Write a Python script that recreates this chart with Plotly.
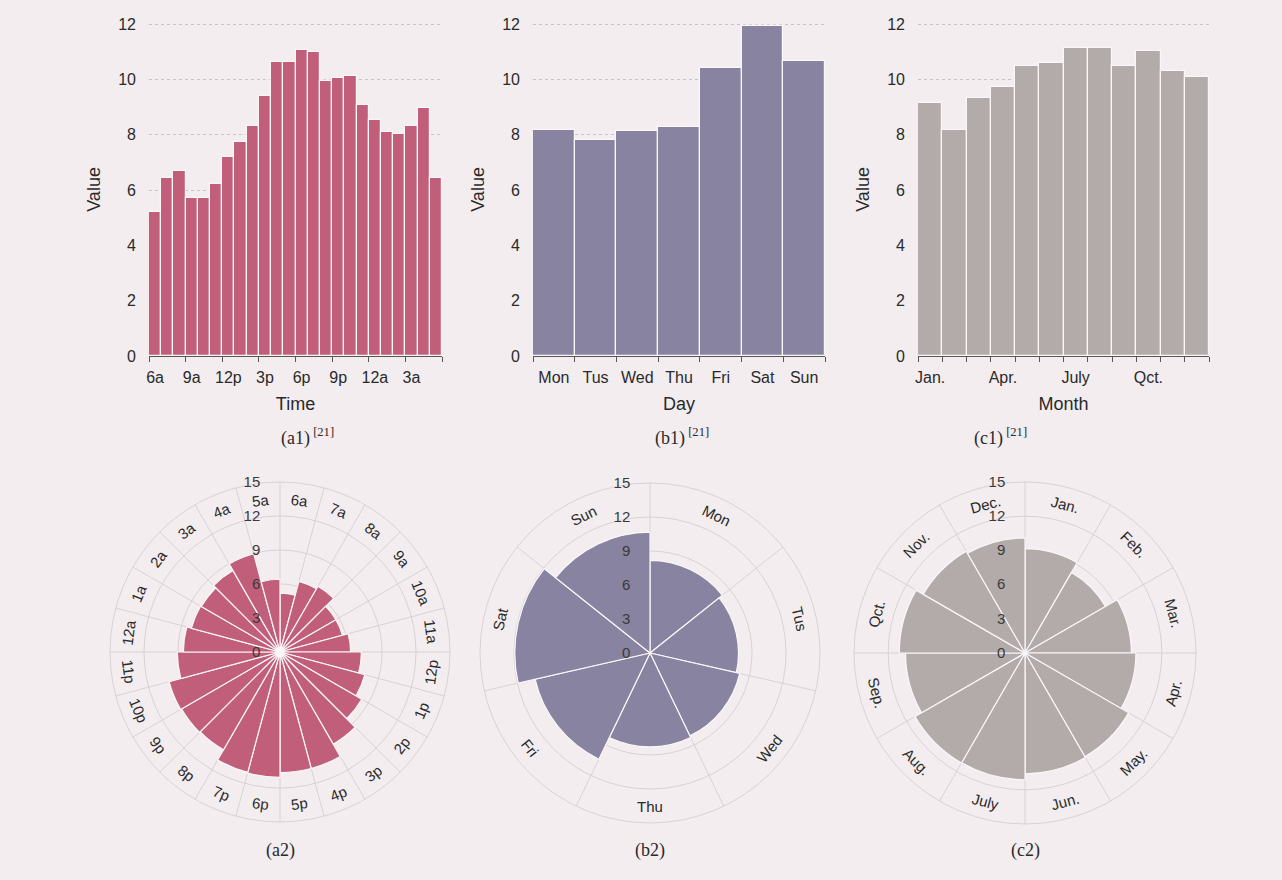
import math
import plotly.graph_objects as go

# ---------------- data ----------------
hours = ["6a", "7a", "8a", "9a", "10a", "11a", "12p", "1p", "2p", "3p", "4p", "5p",
         "6p", "7p", "8p", "9p", "10p", "11p", "12a", "1a", "2a", "3a", "4a", "5a"]
hour_values = [5.2, 6.45, 6.7, 5.7, 5.7, 6.23, 7.18, 7.75, 8.33, 9.39, 10.64, 10.64,
               11.06, 11.0, 9.96, 10.04, 10.13, 9.06, 8.52, 8.1, 8.02, 8.3, 8.98, 6.42]

days = ["Mon", "Tus", "Wed", "Thu", "Fri", "Sat", "Sun"]
day_values = [8.17, 7.81, 8.12, 8.29, 10.4, 11.93, 10.66]

months = ["Jan.", "Feb.", "Mar.", "Apr.", "May.", "Jun.", "July", "Aug.", "Sep.", "Qct.", "Nov.", "Dec."]
month_values = [9.15, 8.16, 9.33, 9.73, 10.5, 10.59, 11.12, 11.14, 10.48, 11.03, 10.3, 10.1]

bar_ticks = [0, 2, 4, 6, 8, 10, 12]
radial_ticks = [0, 3, 6, 9, 12, 15]

# ---------------- style ----------------
W, H = 1282, 880
BG = "#F3EDF0"
C_HOUR = "#C15E7A"
C_DAY = "#8783A0"
C_MONTH = "#B2ABAA"
SANS = "Liberation Sans, Arial, sans-serif"
SERIF = "Liberation Serif, Times New Roman, serif"
TXT = "#2a2a2a"
GRID = "#d8d2d5"

panels = [
    dict(cats=hours, vals=hour_values, color=C_HOUR, xt="Time", label_step=3, tick_step=3,
         x0=149, x1=442, cap="(a1)", capx=307,
         pc=(280, 652), pr=170, pcap="(a2)"),
    dict(cats=days, vals=day_values, color=C_DAY, xt="Day", label_step=1, tick_step=1,
         x0=533, x1=825, cap="(b1)", capx=682,
         pc=(650, 653), pr=170, pcap="(b2)"),
    dict(cats=months, vals=month_values, color=C_MONTH, xt="Month", label_step=3, tick_step=1,
         x0=918, x1=1209, cap="(c1)", capx=1000,
         pc=(1025, 653), pr=171, pcap="(c2)"),
]

fig = go.Figure()
annotations = []
Y0_PX, Y12_PX = 356, 24
YMAX = 12.04
Y_TOP_PX = Y0_PX - (Y0_PX - Y12_PX) * YMAX / 12.0

for k, p in enumerate(panels, start=1):
    n = len(p["cats"])
    xs = list(range(n))
    xa = "x" if k == 1 else f"x{k}"
    ya = "y" if k == 1 else f"y{k}"
    fig.add_trace(go.Bar(
        x=xs, y=p["vals"], xaxis=xa, yaxis=ya,
        marker=dict(color=p["color"], line=dict(color="#fbf7f9", width=1.2)),
        width=1.0, showlegend=False, hoverinfo="y",
    ))
    axkey = "xaxis" if k == 1 else f"xaxis{k}"
    aykey = "yaxis" if k == 1 else f"yaxis{k}"
    fig.update_layout(**{
        axkey: dict(
            domain=[p["x0"] / W, p["x1"] / W], anchor=ya,
            range=[-0.5, n - 0.5], automargin=False,
            tickmode="array",
            tickvals=xs[::p["label_step"]],
            ticktext=p["cats"][::p["label_step"]],
            ticks="", showgrid=False, zeroline=False,
            showline=True, linecolor="#555555", linewidth=1,
            ticklabelstandoff=7,
            tickfont=dict(family=SANS, size=16, color=TXT),
            minor=dict(tickmode="array",
                       tickvals=[i - 0.5 for i in range(0, n + 1, p["tick_step"])],
                       ticks="outside", ticklen=5, tickcolor="#555555", tickwidth=1,
                       showgrid=False),
            title=dict(text=p["xt"], font=dict(family=SANS, size=18, color=TXT), standoff=12),
            fixedrange=True,
        ),
        aykey: dict(
            domain=[(H - Y0_PX) / H, (H - Y_TOP_PX) / H], anchor=xa,
            range=[0, YMAX], tickmode="array", tickvals=bar_ticks, automargin=False,
            showgrid=True, gridcolor="#c9c4c7", griddash="dot", gridwidth=1,
            zeroline=False, showline=False, ticks="",
            ticklabelstandoff=12,
            tickfont=dict(family=SANS, size=16, color=TXT),
            title=dict(text="Value", font=dict(family=SANS, size=18, color=TXT), standoff=12),
            fixedrange=True,
        ),
    })
    annotations.append(dict(
        text=p["cap"] + "<sup> [21]</sup>", x=p["capx"] / W, y=(H - 437) / H,
        xref="paper", yref="paper", showarrow=False, xanchor="center", yanchor="middle",
        font=dict(family=SERIF, size=18, color=TXT),
    ))

    # ---------- polar version ----------
    cx, cy = p["pc"]
    R = p["pr"]
    step = 360.0 / n
    thetas = [(i + 0.5) * step for i in range(n)]
    pkey = "polar" if k == 1 else f"polar{k}"
    fig.add_trace(go.Barpolar(
        r=p["vals"], theta=thetas, width=[step] * n, subplot=pkey,
        marker=dict(color=p["color"], line=dict(color="#fbf7f9", width=1.2)),
        showlegend=False, hoverinfo="r",
    ))
    fig.update_layout(**{
        pkey: dict(
            domain=dict(x=[(cx - R) / W, (cx + R) / W], y=[(H - cy - R) / H, (H - cy + R) / H]),
            bgcolor="rgba(0,0,0,0)",
            angularaxis=dict(
                rotation=90, direction="clockwise",
                tickmode="array", tickvals=[i * step for i in range(n)],
                showticklabels=False, ticks="",
                showgrid=True, gridcolor=GRID, gridwidth=1,
                showline=True, linecolor=GRID, linewidth=1,
            ),
            radialaxis=dict(
                range=[0, 15], tickmode="array", tickvals=radial_ticks,
                angle=90, side="counterclockwise", tickangle=90,
                showline=False, ticks="outside", ticklen=14, tickcolor="rgba(0,0,0,0)",
                showgrid=True, gridcolor=GRID, gridwidth=1,
                tickfont=dict(family=SANS, size=15, color="#3a3a3a"),
            ),
        )
    })
    # tangential category labels inside the outer ring
    r_lab = R * 13.5 / 15.0
    for i, (lab, t) in enumerate(zip(p["cats"], thetas)):
        rad = math.radians(t)
        px = cx + r_lab * math.sin(rad)
        py = cy - r_lab * math.cos(rad)
        if t <= 90:
            rot = t
        elif t < 270:
            rot = t - 180
        else:
            rot = t - 360
        annotations.append(dict(
            text=lab, x=px / W, y=(H - py) / H, xref="paper", yref="paper",
            showarrow=False, textangle=rot, xanchor="center", yanchor="middle",
            font=dict(family=SANS, size=15, color=TXT),
        ))
    annotations.append(dict(
        text=p["pcap"], x=cx / W, y=(H - 850) / H, xref="paper", yref="paper",
        showarrow=False, xanchor="center", yanchor="middle",
        font=dict(family=SERIF, size=18, color=TXT),
    ))

fig.update_layout(
    width=W, height=H, margin=dict(l=0, r=0, t=0, b=0, autoexpand=False),
    paper_bgcolor=BG, plot_bgcolor=BG,
    bargap=0, annotations=annotations,
)

fig.write_html(
    "out.html",
    config={"displayModeBar": False},
    post_script="document.body.style.margin='0';document.body.style.background='%s';" % BG,
)
